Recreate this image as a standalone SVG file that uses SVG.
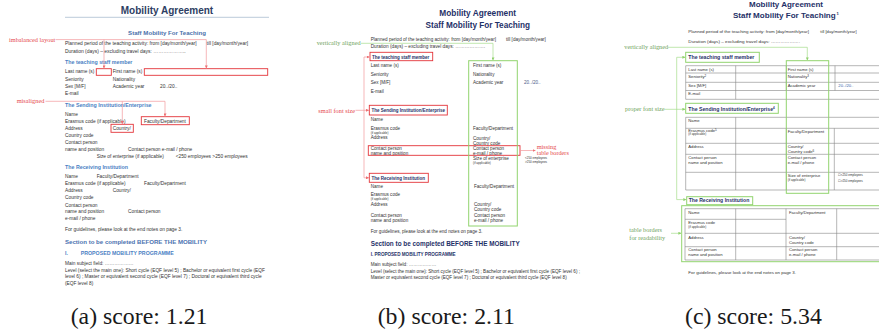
<svg xmlns="http://www.w3.org/2000/svg" width="879" height="332" viewBox="0 0 879 332">
<style>
text{font-family:"Liberation Sans",Arial,sans-serif}
.a{font-size:4.8px;fill:#333}
.b{font-size:4.6px;fill:#333}
.c{font-size:4.2px;fill:#333}
.s{font-size:3px;fill:#333}
.hb{font-weight:bold;fill:#1f3168}
.ha{font-weight:bold;fill:#4b7fc4}
.lr{font-family:"Liberation Serif","Times New Roman",serif;font-size:6.3px;fill:#e5484d}
.lg{font-family:"Liberation Serif","Times New Roman",serif;font-size:6.3px;fill:#6fa35c}
.cap{font-family:"Liberation Serif","Times New Roman",serif;font-size:23.8px;fill:#1a1a1a}
.rbox{fill:none;stroke:#e3343a;stroke-width:0.9}
.gbox{fill:none;stroke:#92d46e;stroke-width:1}
.rc{fill:none;stroke:#f29a9c;stroke-width:0.7}
.gc{fill:none;stroke:#a6dc8c;stroke-width:0.7}
.tl{stroke:#858585;stroke-width:0.6;fill:none}
.blue{fill:#3a5fa8}
</style>
<defs>
<marker id="ar" viewBox="0 0 6 6" refX="6" refY="3" markerWidth="3" markerHeight="3" markerUnits="userSpaceOnUse" orient="auto"><path d="M0,0L6,3L0,6z" fill="#ee6f72"/></marker>
<marker id="ag" viewBox="0 0 6 6" refX="6" refY="3" markerWidth="3" markerHeight="3" markerUnits="userSpaceOnUse" orient="auto"><path d="M0,0L6,3L0,6z" fill="#8fd06c"/></marker>
</defs>
<rect width="879" height="332" fill="#fff"/>

<!-- Panel A -->
<g id="panel-a">
<text x="167" y="13.6" text-anchor="middle" style="font-size:10px;font-weight:bold;fill:#2d3e63">Mobility Agreement</text>
<line x1="65" y1="17.3" x2="269" y2="17.3" stroke="#a9bccf" stroke-width="0.8"/>
<text x="167" y="35" text-anchor="middle" style="font-size:6.1px;font-weight:bold;fill:#4a70aa">Staff Mobility For Teaching</text>
<text class="a" x="65" y="45.4" textLength="131.7" lengthAdjust="spacingAndGlyphs">Planned period of the teaching activity: from [day/month/year]</text>
<text class="a" x="206.5" y="45.4">till [day/month/year]</text>
<text class="a" x="65" y="53.4" textLength="120.7" lengthAdjust="spacingAndGlyphs">Duration (days) – excluding travel days: ………………..</text>
<text class="ha" x="65" y="64.2" style="font-size:5.3px">The teaching staff member</text>
<text class="a" x="65" y="73.4">Last name (s)</text><text class="a" x="112.7" y="73.4">First name (s)</text>
<text class="a" x="65" y="81">Seniority</text><text class="a" x="112.7" y="81">Nationality</text>
<text class="a" x="65" y="88">Sex [M/F]</text><text class="a" x="112.7" y="88">Academic year</text><text class="a" x="160" y="88">20../20..</text>
<text class="a" x="65" y="95">E-mail</text>
<text class="ha" x="65" y="106.6" style="font-size:5.3px">The Sending Institution/Enterprise</text>
<text class="a" x="65" y="115.7">Name</text>
<text class="a" x="65" y="122.7">Erasmus code (if applicable)</text><text class="a" x="144" y="122.7">Faculty/Department</text>
<text class="a" x="65" y="130">Address</text><text class="a" x="112.7" y="130">Country/</text>
<text class="a" x="65" y="137">Country code</text>
<text class="a" x="65" y="144.4">Contact person</text>
<text class="a" x="65" y="150.7">name and position</text><text class="a" x="128" y="150.7">Contact person e-mail / phone</text>
<text class="a" x="96.7" y="158">Size of enterprise (if applicable)</text><text class="a" x="175.7" y="158">&lt;250 employees &gt;250 employees</text>
<text class="ha" x="65" y="169" style="font-size:5.3px">The Receiving Institution</text>
<text class="a" x="65" y="178">Name</text><text class="a" x="96.7" y="178">Faculty/Department</text>
<text class="a" x="65" y="185">Erasmus code (if applicable)</text><text class="a" x="144" y="185">Faculty/Department</text>
<text class="a" x="65" y="192">Address</text><text class="a" x="112.7" y="192">Country/</text>
<text class="a" x="65" y="199.4">Country code</text>
<text class="a" x="65" y="207">Contact person</text>
<text class="a" x="65" y="213.4">name and position</text><text class="a" x="128" y="213.4">Contact person</text>
<text class="a" x="65" y="219.7">e-mail / phone</text>
<text class="a" x="65" y="230.7" textLength="117.3" lengthAdjust="spacingAndGlyphs">For guidelines, please look at the end notes on page 3.</text>
<text class="ha" x="65" y="243.5" style="font-size:6.1px;fill:#4b72b0" textLength="142" lengthAdjust="spacingAndGlyphs">Section to be completed BEFORE THE MOBILITY</text>
<text class="ha" x="65" y="254.8" style="font-size:5.2px">I.</text>
<text class="ha" x="80.7" y="254.8" style="font-size:5.2px" textLength="93" lengthAdjust="spacingAndGlyphs">PROPOSED MOBILITY PROGRAMME</text>
<text class="a" x="65" y="265">Main subject field: ………………</text>
<text class="a" x="65" y="272.4" textLength="200" lengthAdjust="spacingAndGlyphs">Level (select the main one): Short cycle (EQF level 5) ; Bachelor or equivalent first cycle (EQF</text>
<text class="a" x="65" y="278.4" textLength="196.7" lengthAdjust="spacingAndGlyphs">level 6) ; Master or equivalent second cycle (EQF level 7) ; Doctoral or equivalent third cycle</text>
<text class="a" x="65" y="284.7">(EQF level 8)</text>
<text class="cap" x="70.7" y="323.5">(a) score: 1.21</text>
</g>
<g id="a-imbalanced">
<text class="lr" x="9" y="42">imbalanced layout</text>
<rect class="rbox" x="96.3" y="68.7" width="15" height="6.6"/>
<rect class="rbox" x="144.3" y="68.7" width="123.4" height="6.6"/>
</g>
<g id="a-misaligned">
<text class="lr" x="16.7" y="103">misaligned</text>
<rect class="rbox" x="141.3" y="116.7" width="48" height="8"/>
<rect class="rbox" x="111" y="124.3" width="22.3" height="8"/>
</g>

<!-- Panel B -->
<g id="panel-b">
<text x="477.7" y="16" text-anchor="middle" class="hb" style="font-size:8.3px">Mobility Agreement</text>
<text x="477.8" y="27.7" text-anchor="middle" class="hb" style="font-size:8.2px">Staff Mobility For Teaching</text>
<text class="b" x="370.7" y="40.6" textLength="125.3" lengthAdjust="spacingAndGlyphs">Planned period of the teaching activity: from [day/month/year]</text>
<text class="b" x="506" y="40.6">till [day/month/year]</text>
<text class="b" x="370.7" y="47.6" textLength="114.3" lengthAdjust="spacingAndGlyphs">Duration (days) – excluding travel days: ……………….</text>
<text class="hb" x="372" y="58.6" style="font-size:4.5px">The teaching staff member</text>
<text class="b" x="370.7" y="66.9">Last name (s)</text><text class="b" x="473" y="66.9">First name (s)</text>
<text class="b" x="370.7" y="75.6">Seniority</text><text class="b" x="473" y="75.6">Nationality</text>
<text class="b" x="370.7" y="84.3">Sex [M/F]</text><text class="b" x="473" y="84.3">Academic year</text><text class="b" x="524" y="84.3" style="fill:#4a5a8a">20../20..</text>
<text class="b" x="370.7" y="92.6">E-mail</text>
<text class="hb" x="371.5" y="111.9" style="font-size:4.5px">The Sending Institution/Enterprise</text>
<text class="b" x="370.7" y="120.9">Name</text>
<text class="b" x="370.7" y="129.6">Erasmus code</text><text class="s" x="370.7" y="133.8">(if applicable)</text>
<text class="b" x="370.7" y="139.3">Address</text>
<text class="b" x="473" y="129.6">Faculty/Department</text>
<text class="b" x="473" y="139.6">Country/</text><text class="b" x="473" y="144.6">Country code</text>
<text class="b" x="370.7" y="149.9">Contact person</text><text class="b" x="370.7" y="154.9">name and position</text>
<text class="b" x="473" y="149.9">Contact person</text><text class="b" x="473" y="154.9">e-mail / phone</text>
<text class="b" x="473" y="159.9">Size of enterprise</text><text class="s" x="473" y="164.3">(if applicable)</text>
<text class="s" x="525" y="159.4">&lt;250 employees</text><text class="s" x="525" y="162.9">&gt;250 employees</text>
<text class="hb" x="371.5" y="179.6" style="font-size:4.5px">The Receiving Institution</text>
<text class="b" x="370.7" y="187.6">Name</text><text class="b" x="474" y="187.9">Faculty/Department</text>
<text class="b" x="370.7" y="196.3">Erasmus code</text><text class="s" x="370.7" y="200.3">(if applicable)</text>
<text class="b" x="370.7" y="205.9">Address</text>
<text class="b" x="474" y="205.9">Country/</text><text class="b" x="474" y="211.3">Country code</text>
<text class="b" x="370.7" y="216.8">Contact person</text><text class="b" x="474" y="216.8">Contact person</text>
<text class="b" x="370.7" y="222.3">name and position</text><text class="b" x="474" y="222.3">e-mail / phone</text>
<text class="b" x="370.7" y="232.6" textLength="111.7" lengthAdjust="spacingAndGlyphs">For guidelines, please look at the end notes on page 3.</text>
<text class="hb" x="370.7" y="245.9" style="font-size:6.4px" textLength="149" lengthAdjust="spacingAndGlyphs">Section to be completed BEFORE THE MOBILITY</text>
<text class="hb" x="370.7" y="255.9" style="font-size:4.6px" textLength="85" lengthAdjust="spacingAndGlyphs">I. PROPOSED MOBILITY PROGRAMME</text>
<text class="b" x="370.7" y="265.9">Main subject field: ………………</text>
<text class="b" x="370.7" y="272.6" textLength="209.3" lengthAdjust="spacingAndGlyphs">Level (select the main one): Short cycle (EQF level 5) ; Bachelor or equivalent first cycle (EQF level 6) ;</text>
<text class="b" x="370.7" y="278.6" textLength="196" lengthAdjust="spacingAndGlyphs">Master or equivalent second cycle (EQF level 7) ; Doctoral or equivalent third cycle (EQF level 8)</text>
<text class="cap" x="377.7" y="323.5">(b) score: 2.11</text>
</g>
<g id="b-teaching-box"><rect class="rbox" x="370" y="52.3" width="62.7" height="8.4"/></g>
<g id="b-sending-box"><rect class="rbox" x="369.3" y="105.3" width="78" height="9.7"/></g>
<g id="b-receiving-box"><rect class="rbox" x="369.3" y="173.3" width="59" height="9"/></g>
<g id="b-contact-box"><rect class="rbox" x="368.3" y="145.7" width="151.7" height="9.6"/></g>
<g id="b-column-box"><rect class="gbox" x="468.7" y="60.7" width="48.6" height="165.3"/></g>
<g id="b-labels">
<text class="lg" x="316.7" y="45.3">vertically aligned</text>
<text class="lr" x="318.3" y="112.6">small font size</text>
<text class="lr" x="536.7" y="148.7">missing</text>
<text class="lr" x="536.7" y="155.3" style="font-size:6.2px">table borders</text>
</g>

<!-- Panel C -->
<g id="panel-c">
<text x="786" y="7" text-anchor="middle" class="hb" style="font-size:8px">Mobility Agreement</text>
<text x="733" y="18.3" class="hb" style="font-size:8px" textLength="102.7" lengthAdjust="spacingAndGlyphs">Staff Mobility For Teaching</text>
<text x="836.5" y="15" class="hb" style="font-size:4.2px">1</text>
<text class="c" x="688.3" y="33.2" textLength="120.7" lengthAdjust="spacingAndGlyphs">Planned period of the teaching activity: from [day/month/year]</text>
<text class="c" x="820.3" y="33.2">till [day/month/year]</text>
<text class="c" x="688.3" y="43.2" textLength="111.7" lengthAdjust="spacingAndGlyphs">Duration (days) – excluding travel days: ……………….</text>
<text class="hb" x="688.3" y="59.2" style="font-size:5.2px">The teaching staff member</text>
<g class="tl">
<path d="M685.7 65.7H879M685.7 73H879M685.7 82.3H879M685.7 90.5H879M685.7 99.3H879"/>
<path d="M685.7 65.7V99.3M735.7 65.7V99.3M786.3 65.7V90.5M835 65.7V90.5"/>
</g>
<text class="c" x="688.3" y="70.5">Last name (s)</text><text class="c" x="787.7" y="70.5">First name (s)</text>
<text class="c" x="688.3" y="77.8">Seniority<tspan class="s" dy="-1.3">2</tspan></text>
<text class="c" x="787.7" y="77.8">Nationality<tspan class="s" dy="-1.3">3</tspan></text>
<text class="c" x="688.3" y="87.2">Sex [M/F]</text><text class="c" x="787.7" y="87.2">Academic year</text><text class="c blue" x="838.3" y="87.2">20../20..</text>
<text class="c" x="688.3" y="95.2">E-mail</text>
<text class="hb" x="688.3" y="110.9" style="font-size:5.2px">The Sending Institution/Enterprise<tspan style="font-size:3px" dy="-1.8">4</tspan></text>
<g class="tl">
<path d="M685.7 117.3H879M685.7 128.3H879M685.7 143.3H879M685.7 154.3H879M685.7 172.3H879M685.7 190H879"/>
<path d="M685.7 117.3V190M735.7 117.3V190M786.3 128.3V190M834.3 128.3V190"/>
</g>
<text class="c" x="688.3" y="122.2">Name</text>
<text class="c" x="688.3" y="131.8">Erasmus code<tspan class="s" dy="-1.3">5</tspan></text>
<text class="s" x="688.3" y="135.3">(if applicable)</text>
<text class="c" x="688.3" y="147.8">Address</text>
<text class="c" x="688.3" y="158.5">Contact person</text><text class="c" x="688.3" y="163.5">name and position</text>
<text class="c" x="787.7" y="132.8">Faculty/Department</text>
<text class="c" x="787.7" y="147.8">Country/</text>
<text class="c" x="787.7" y="153.2">Country code<tspan class="s" dy="-1.3">6</tspan></text>
<text class="c" x="787.7" y="158.5">Contact person</text><text class="c" x="787.7" y="163.5">e-mail / phone</text>
<text class="c" x="787.7" y="176.8">Size of enterprise</text><text class="s" x="787.7" y="181.3">(if applicable)</text>
<text class="s" x="837.7" y="176">☐&lt;250 employees</text><text class="s" x="837.7" y="182.3">☐&gt;250 employees</text>
<text class="hb" x="688.7" y="202.4" style="font-size:5.1px">The Receiving Institution</text>
<g class="tl">
<path d="M685 208.7H879M685 219.3H786M685 233.3H879M685 246.7H879M685 260H879"/>
<path d="M685 208.7V260M735.7 208.7V260M786 208.7V260M836.7 208.7V260"/>
</g>
<text class="c" x="688.3" y="213.5">Name</text>
<text class="c" x="688.3" y="224.2">Erasmus code</text><text class="s" x="688.3" y="228">(if applicable)</text>
<text class="c" x="688.3" y="238.5">Address</text>
<text class="c" x="688.3" y="250.8">Contact person</text><text class="c" x="688.3" y="256.2">name and position</text>
<text class="c" x="789" y="213.5">Faculty/Department</text>
<text class="c" x="789" y="238.5">Country/</text><text class="c" x="789" y="243.8">Country code</text>
<text class="c" x="789" y="250.8">Contact person</text><text class="c" x="789" y="256.2">e-mail / phone</text>
<text class="c" x="688.3" y="273.8" textLength="107.7" lengthAdjust="spacingAndGlyphs">For guidelines, please look at the end notes on page 3.</text>
<text class="cap" x="685" y="323.5">(c) score: 5.34</text>
</g>
<g id="c-teaching-box"><rect class="gbox" x="685.7" y="52.3" width="73.6" height="10"/></g>
<g id="c-sending-box"><rect class="gbox" x="685.7" y="103.3" width="92.6" height="10"/></g>
<g id="c-receiving-box"><rect class="gbox" x="686.7" y="196.7" width="66" height="8"/></g>
<g id="c-column-box"><rect class="gbox" x="786.3" y="60.7" width="42.4" height="132.6"/></g>
<g id="c-table-box"><rect class="gbox" x="681.7" y="205.7" width="200" height="56"/></g>
<g id="c-labels">
<text class="lg" x="624.3" y="49.3">vertically aligned</text>
<text class="lg" x="625" y="111.3">proper font size</text>
<text class="lg" x="629.3" y="232">table borders</text>
<text class="lg" x="629.3" y="240">for readability</text>
</g>

<!-- Connectors -->
<g id="connectors">
<path class="rc" d="M55.5 39.6H206.3V68.4" marker-end="url(#ar)"/>
<path class="rc" d="M104 39.6V68.4" marker-end="url(#ar)"/>
<path class="rc" d="M45.5 101.3H165V116.4" marker-end="url(#ar)"/>
<path class="rc" d="M122.3 101.3V124" marker-end="url(#ar)"/>
<path class="gc" d="M361 43.3H493V60.4" marker-end="url(#ag)"/>
<path class="rc" d="M355.5 110.3H369" marker-end="url(#ar)"/>
<path class="rc" d="M364 57V177.8H369" marker-end="url(#ar)"/>
<path class="rc" d="M364 57H369.7" marker-end="url(#ar)"/>
<path class="rc" d="M520.5 150.5H535.5" marker-end="url(#ar)"/>
<path class="gc" d="M668 47.3H807.3V60.4" marker-end="url(#ag)"/>
<path class="gc" d="M664.5 109.3H685.4" marker-end="url(#ag)"/>
<path class="gc" d="M676.7 57.3V199.6H686.4" marker-end="url(#ag)"/>
<path class="gc" d="M676.7 57.3H685.4" marker-end="url(#ag)"/>
<path class="gc" d="M671 233.3H681.4" marker-end="url(#ag)"/>
</g>
</svg>
